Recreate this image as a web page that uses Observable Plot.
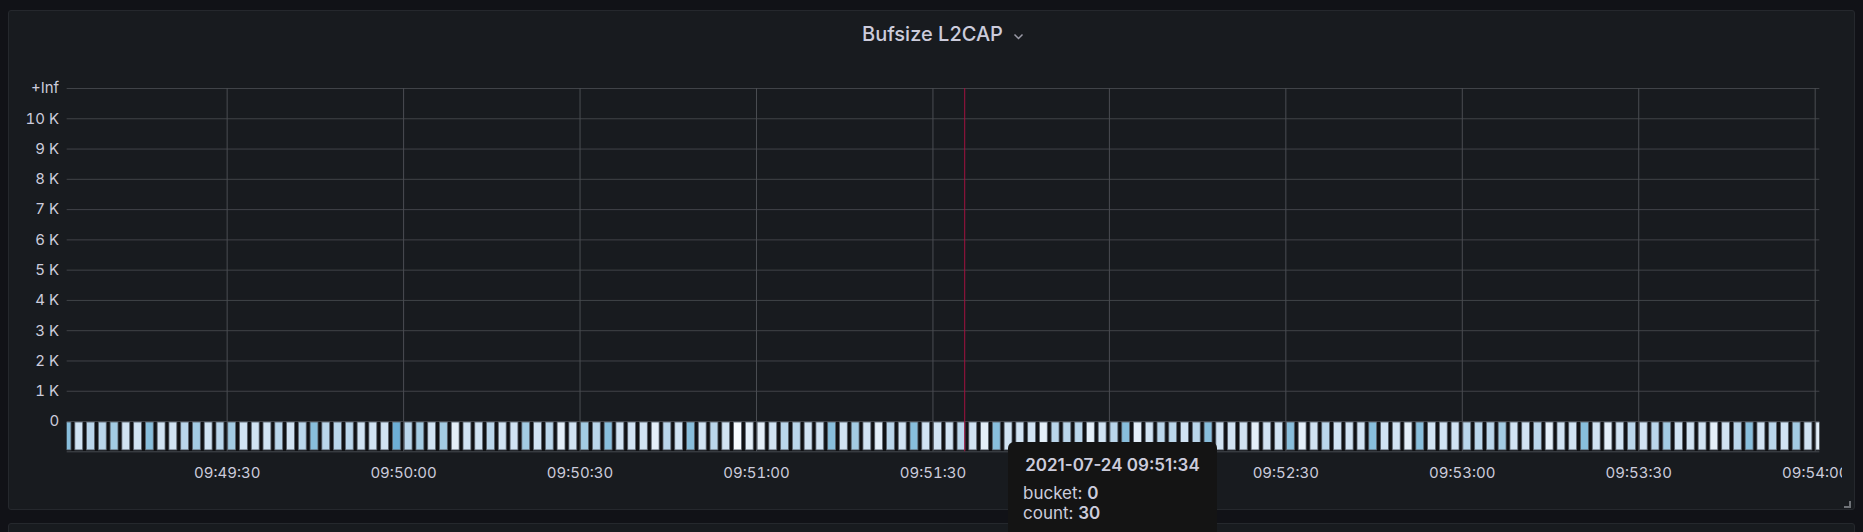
<!DOCTYPE html>
<html>
<head>
<meta charset="utf-8">
<script src="https://cdn.jsdelivr.net/npm/d3@7"></script>
<script src="https://cdn.jsdelivr.net/npm/@observablehq/plot@0.6"></script>
<style>
  html, body { margin: 0; padding: 0; background: #111217; }
  #root { position: relative; width: 1863px; height: 532px; overflow: hidden; font-family: Inter, "Noto Sans", sans-serif; }
  .panel { position: absolute; background: #181b1f; border: 1px solid #25282d; border-radius: 3px; box-sizing: border-box; }
  #title { position: absolute; left: 862px; top: 22px; font-size: 20px; line-height: 24px; font-weight: 500; color: #ccccdc; white-space: nowrap; }
  #chev { position: absolute; left: 1013px; top: 33px; }
  #plotwrap { position: absolute; left: 0; top: 0; width: 1842px; height: 532px; overflow: hidden; }
  #tip { position: absolute; left: 1008px; top: 442px; width: 209px; height: 110px; background: #141414; border-radius: 6px; color: #ccccdc; font-size: 17px; }
  #tip .t { position: absolute; left: 0; width: 209px; top: 13px; text-align: center; font-weight: 600; line-height: 20px; }
  #tip .r { position: absolute; left: 15px; line-height: 20px; white-space: nowrap; }
  #tip b { font-weight: 600; }
  #handle { position: absolute; left: 1844px; top: 501px; width: 5px; height: 5px; border-right: 2px solid #6e7176; border-bottom: 2px solid #6e7176; }
</style>
</head>
<body>
<div id="root">
  <div class="panel" style="left:8px; top:10px; width:1847px; height:500px;"></div>
  <div class="panel" style="left:8px; top:523px; width:1847px; height:40px;"></div>
  <div id="title">Bufsize L2CAP</div>
  <svg id="chev" width="11" height="8" viewBox="0 0 11 8"><polyline points="1.5,1.5 5.5,5.5 9.5,1.5" fill="none" stroke="#9a9aa6" stroke-width="1.5"/></svg>
  <div id="plotwrap"></div>
  <div id="handle"></div>
  <div id="tip">
    <div class="t" id="tipTitle"></div>
    <div class="r" style="top:41px;">bucket: <b id="tipBucket"></b></div>
    <div class="r" style="top:61px;">count: <b id="tipCount"></b></div>
  </div>
</div>
<script>
// ---- data ----
const day = "2021-07-24";
const firstBucketTime = "09:49:02";     // first (partly hidden) 2-second bucket
const bucketSeconds = 2;
// counts per 2 s bucket, 09:49:02 … 09:54:00 (150 buckets)
const counts = [
  24,34,30,30,27,34,34,24,34,34,30,27,34,30,
  27,34,34,34,30,34,30,24,30,30,30,34,34,34,21,
  30,27,34,27,38,34,34,30,34,34,27,34,30,38,34,
  27,30,24,34,34,34,38,30,34,24,34,30,34,42,38,
  38,34,30,30,34,34,24,34,27,34,38,30,34,24,34,
  34,34,30,34,38,24,34,34,34,38,30,30,30,38,34,
  30,24,38,34,30,30,34,30,24,34,34,34,38,34,34,
  24,38,34,30,34,34,34,24,34,34,38,24,34,34,34,
  30,30,30,27,34,34,30,38,34,34,24,34,38,34,30,
  34,30,27,34,34,34,38,34,30,24,34,30,34,27,34,
  38
];
const yTickValues = [0, 1, 2, 3, 4, 5, 6, 7, 8, 9, 10, 11];
const yTickLabels = ["0", "1 K", "2 K", "3 K", "4 K", "5 K", "6 K", "7 K", "8 K", "9 K", "10 K", "+Inf"];
const xTickLabels = ["09:49:30", "09:50:00", "09:50:30", "09:51:00", "09:51:30", "09:52:00", "09:52:30", "09:53:00", "09:53:30", "09:54:00"];
const xDomain = ["09:49:02.8", "09:54:00.79"];
const crosshairTime = "09:51:35.4";
const tooltip = { time: "2021-07-24 09:51:34", bucket: "0", count: 30 };
const colorMax = 42;

// ---- build ----
const toDate = s => new Date(`${day}T${s}Z`);
const t0 = toDate(firstBucketTime).getTime();
const cells = counts.map((c, i) => ({
  t1: new Date(t0 + i * bucketSeconds * 1000),
  t2: new Date(t0 + (i + 1) * bucketSeconds * 1000),
  count: c
}));

const chart = Plot.plot({
  width: 1842,
  height: 532,
  marginLeft: 66.67,
  marginRight: 1842 - 1819.33,
  marginTop: 88,
  marginBottom: 532 - 451.3,
  style: { background: "transparent", color: "#ccccdc", fontFamily: "Inter, sans-serif", fontSize: "15px" },
  x: {
    type: "utc",
    domain: xDomain.map(toDate),
    ticks: xTickLabels.map(toDate),
    tickFormat: d3.utcFormat("%H:%M:%S"),
    tickSize: 0,
    tickPadding: 16,
    label: null
  },
  y: {
    domain: [-1, 11],
    ticks: yTickValues,
    tickFormat: d => yTickLabels[d],
    tickSize: 0,
    tickPadding: 8,
    label: null
  },
  color: { type: "linear", scheme: "blues", domain: [0, colorMax], reverse: true },
  marks: [
    Plot.rect(cells, { x1: "t1", x2: "t2", y1: -1, y2: 0, fill: "#111215", clip: true }),
    Plot.ruleY(yTickValues, { stroke: "#404348", strokeWidth: 1 }),
    Plot.ruleY([-1], { stroke: "#474a50", strokeWidth: 1 }),
    Plot.ruleX(xTickLabels.map(toDate), { stroke: "#4a4d52", strokeWidth: 1 }),
    Plot.rect(cells, {
      x1: "t1", x2: "t2", y1: -1, y2: 0,
      fill: "count", stroke: "#5b636d", strokeWidth: 0.8,
      insetLeft: 1.1, insetRight: 2.8, insetTop: 1, insetBottom: 1.4,
      clip: true
    }),
    Plot.ruleX([toDate(crosshairTime)], { stroke: "#a3123f", strokeWidth: 1 })
  ]
});
document.getElementById("plotwrap").appendChild(chart);
document.getElementById("tipTitle").textContent = tooltip.time;
document.getElementById("tipBucket").textContent = tooltip.bucket;
document.getElementById("tipCount").textContent = tooltip.count;
</script>
</body>
</html>
